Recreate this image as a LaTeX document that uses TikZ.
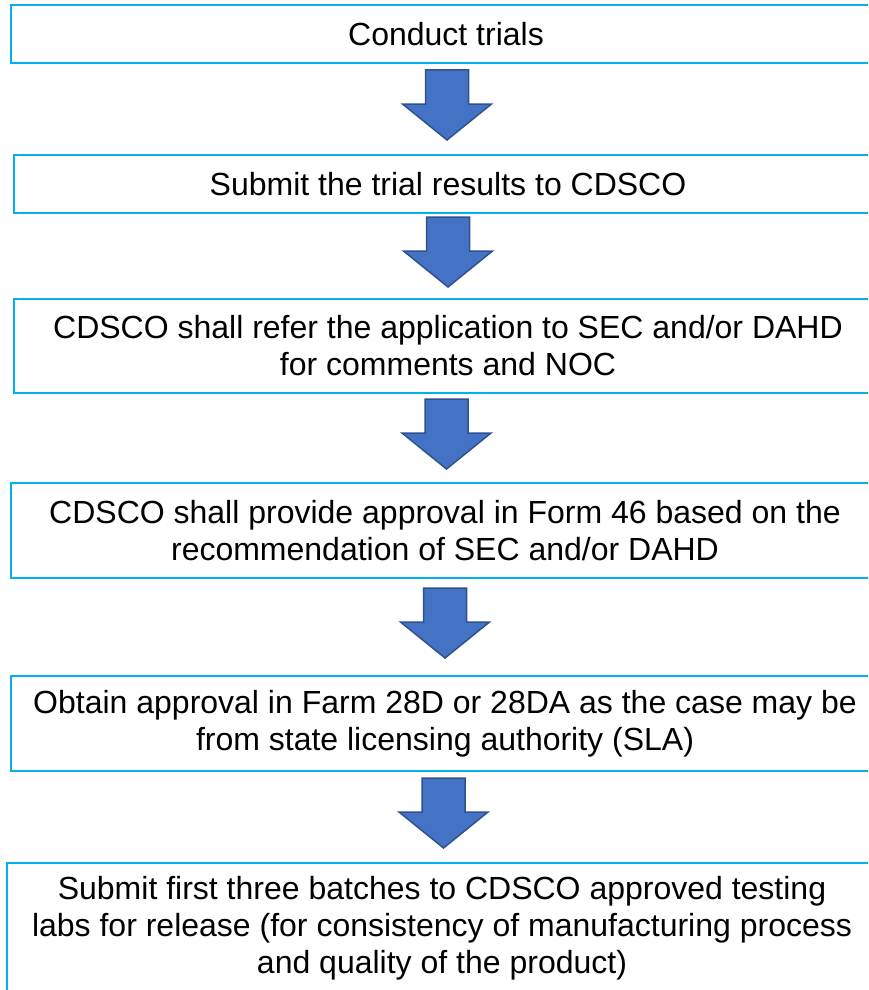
\documentclass[tikz,border=0pt]{standalone}
\usepackage{fontspec}
\setmainfont{Liberation Sans}
\usetikzlibrary{calc}
\definecolor{boxblue}{HTML}{00B0F0}
\definecolor{arrowfill}{HTML}{4472C4}
\definecolor{arrowedge}{HTML}{2F528F}

\begin{document}
\begin{tikzpicture}[x=1pt, y=1pt,
  stepbox/.style={align=center, inner sep=0pt, font=\fontsize{32}{37}\selectfont},
  frame/.style={draw=boxblue, line width=2pt},
  blockarrow/.style={fill=arrowfill, draw=arrowedge, line width=1.5pt, line join=miter}]
  \useasboundingbox (0,0) rectangle (868,-990);
  \clip (0,0) rectangle (868,-990);
  \node[stepbox, minimum width=870pt, minimum height=58pt] (b1) at (446,-34) {Conduct trials};
  \node[stepbox, minimum width=868pt, minimum height=58pt] (b2) at (448,-184)
    {Submit the trial results to CDSCO};
  \node[stepbox, minimum width=868pt, minimum height=94pt] (b3) at (448,-346)
    {CDSCO shall refer the application to SEC and/or DAHD\\for comments and NOC};
  \node[stepbox, minimum width=868pt, minimum height=95pt] (b4) at (445,-530.5)
    {CDSCO shall provide approval in Form 46 based on the\\recommendation of SEC and/or DAHD};
  \node[stepbox, minimum width=868pt, minimum height=95pt] (b5) at (445,-723.5)
    {Obtain approval in Farm 28D or 28DA as the case may be\\from state licensing authority (SLA)};
  \node[stepbox, minimum width=870pt, minimum height=130pt] (b6) at (442,-928)
    {Submit first three batches to CDSCO approved testing\\labs for release (for consistency of manufacturing process\\and quality of the product)};
  % frames are open on the right, they run off the page
  \foreach \b in {b1, b2, b3, b4, b5, b6}
    \draw[frame] ([xshift=40pt]\b.north east) -- (\b.north west) -- (\b.south west)
      -- ([xshift=40pt]\b.south east);
  % block arrows between the steps
  \foreach \a/\b in {b1/b2, b2/b3, b3/b4, b4/b5, b5/b6} {
    \coordinate (m) at ($(\a.south)!0.5!(\b.north) + (0,4)$);
    \draw[blockarrow] ($(m)+(-21.5,35)$) -- ($(m)+(21.5,35)$) -- ($(m)+(21.5,1)$)
      -- ($(m)+(44.5,1)$) -- ($(m)+(0,-35)$) -- ($(m)+(-44.5,1)$)
      -- ($(m)+(-21.5,1)$) -- cycle;
  }
\end{tikzpicture}
\end{document}
